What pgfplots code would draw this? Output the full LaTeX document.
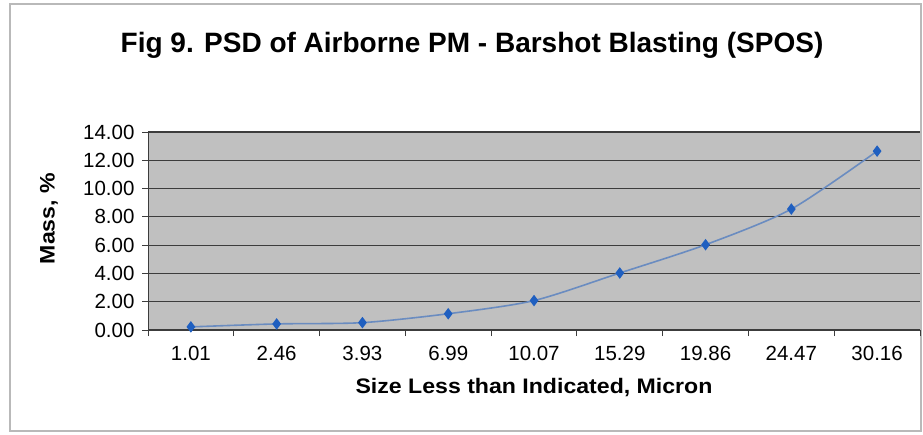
\documentclass[border=0pt]{standalone}
\usepackage{pgfplots}
\pgfplotsset{compat=1.18}
\usepackage{fontspec}
\setmainfont{Liberation Sans}
\newfontfamily\widefont[FakeStretch=1.1]{Liberation Sans}
\definecolor{plotbg}{HTML}{C0C0C0}
\definecolor{gridc}{HTML}{3C3C3C}
\definecolor{linec}{HTML}{6A8CC0}
\definecolor{markc}{HTML}{1F5FC0}
\begin{document}
\begin{tikzpicture}[x=1pt,y=1pt]
\fill[white] (0,0) rectangle (923,434);
\draw[gray!55, line width=1.2pt] (10,3) rectangle (921,430);
\node[font=\bfseries\fontsize{28}{32}\selectfont] at (472,389) {Fig 9. PSD of Airborne PM - Barshot Blasting (SPOS)};
\begin{axis}[
  at={(148pt,104pt)}, anchor=south west,
  scale only axis, width=772pt, height=198pt,
  xmin=0.5, xmax=9.5, ymin=0, ymax=14,
  xtick={0.5,1.5,...,9.5},
  x tick label as interval,
  xticklabels={1.01,2.46,3.93,6.99,10.07,15.29,19.86,24.47,30.16},
  ytick={0,2,...,14},
  yticklabel style={/pgf/number format/fixed,/pgf/number format/fixed zerofill,/pgf/number format/precision=2, xshift=-4pt},
  /pgf/number format/assume math mode=true,
  tick label style={font=\fontsize{20.5}{23}\selectfont},
  xticklabel style={yshift=-7pt},
  tick align=outside,
  major tick length=6pt,
  tick style={gridc, line width=0.9pt},
  axis x line*=bottom, axis y line*=left,
  axis line style={gridc, line width=1pt},
  ymajorgrids, grid style={gridc, line width=1.1pt},
  axis background/.style={fill=plotbg},
  xlabel={Size Less than Indicated, Micron},
  ylabel={Mass, \%},
  label style={font=\widefont\bfseries\fontsize{21}{24}\selectfont},
  xlabel style={at={(axis description cs:0.5,-0.293)}, anchor=center},
  ylabel style={at={(axis description cs:-0.1282,0.563)}, anchor=center},
  clip=false,
]
\addplot[linec, line width=1.6pt, smooth, tension=0.45, mark=diamond*, mark size=4.5pt, mark options={fill=markc, draw=markc}]
coordinates {(1,0.22) (2,0.43) (3,0.52) (4,1.15) (5,2.08) (6,4.03) (7,6.03) (8,8.55) (9,12.65)};
\end{axis}
\end{tikzpicture}
\end{document}
